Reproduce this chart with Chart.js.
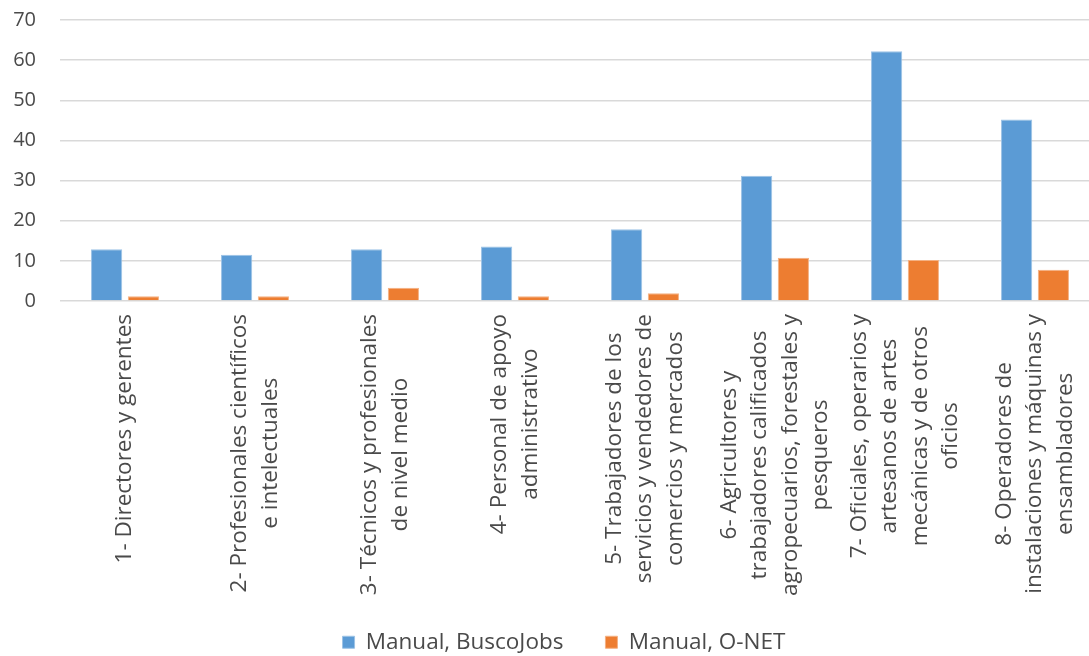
<!DOCTYPE html>
<html>
<head>
<meta charset="utf-8">
<script src="https://cdn.jsdelivr.net/npm/chart.js@4.4.1/dist/chart.umd.min.js"></script>
<style>
  html, body { margin: 0; padding: 0; background: #fff; overflow: hidden; }
  #wrap { width: 1100px; height: 656px; }
</style>
</head>
<body>
<div id="wrap"><canvas id="chart"></canvas></div>
<script>
// Kategorien (Zeilenumbrüche wie im Original)
const CATEGORIES = [
  ['1- Directores y gerentes'],
  ['2- Profesionales científicos', 'e intelectuales'],
  ['3- Técnicos y profesionales', 'de nivel medio'],
  ['4- Personal de apoyo', 'administrativo'],
  ['5- Trabajadores de los', 'servicios y vendedores de', 'comercios y mercados'],
  ['6- Agricultores y', 'trabajadores calificados', 'agropecuarios, forestales y', 'pesqueros'],
  ['7- Oficiales, operarios y', 'artesanos de artes', 'mecánicas y de otros', 'oficios'],
  ['8- Operadores de', 'instalaciones y máquinas y', 'ensambladores'],
];
const SERIES_NAMES = ['Manual, BuscoJobs', 'Manual, O-NET'];
const BUSCOJOBS = [12.9, 11.5, 12.9, 13.6, 17.9, 31.2, 62.2, 45.2];
const ONET      = [1.2, 1.2, 3.3, 1.2, 1.9, 10.8, 10.2, 7.8];
const Y_TICKS   = [0, 10, 20, 30, 40, 50, 60, 70];

const FONT = '"Open Sans", "DejaVu Sans", sans-serif';
const TEXT = '#4a4a4a';
const GRID = '#d9d9d9';
const BLUE = '#5b9bd5';
const ORANGE = '#ed7d31';

Chart.defaults.font.family = FONT;
Chart.defaults.color = TEXT;

// x-Beschriftungen: gedreht, mehrzeilig, jede Zeile zentriert (wie Excel)
const wrappedLabels = {
  id: 'wrappedLabels',
  afterDraw(chart) {
    const xs = chart.scales.x;
    const c = chart.ctx;
    const lh = 30.5;
    const top = chart.chartArea.bottom + 13;
    c.save();
    c.font = '22.5px ' + FONT;
    c.fillStyle = TEXT;
    c.textAlign = 'center';
    c.textBaseline = 'middle';
    CATEGORIES.forEach((lines, i) => {
      const x = xs.getPixelForValue(i);
      const maxW = Math.max(...lines.map(l => c.measureText(l).width));
      c.save();
      c.translate(x, top + maxW / 2);
      c.rotate(-Math.PI / 2);
      lines.forEach((l, j) => {
        c.fillText(l, 0, (j - (lines.length - 1) / 2) * lh);
      });
      c.restore();
    });
    c.restore();
  }
};

// Legende etwas verschieben (großes Item-Padding, Zeile bei y≈641)
const LEGEND_DY = 7.5;
const LEGEND_DX = 14;
const legendShift = {
  id: 'legendShift',
  afterLayout(chart) {
    const lg = chart.legend;
    if (!lg) return;
    lg.top += LEGEND_DY;
    lg.bottom += LEGEND_DY;
    lg.left += LEGEND_DX;
    lg.right += LEGEND_DX;
    (lg.legendHitBoxes || []).forEach(b => { b.top += LEGEND_DY; b.left += LEGEND_DX; });
  }
};

new Chart(document.getElementById('chart'), {
  type: 'bar',
  data: {
    labels: CATEGORIES.map(l => l.join(' ')),
    datasets: [
      { label: SERIES_NAMES[0], data: BUSCOJOBS, backgroundColor: BLUE, borderColor: '#9dc3e6', borderWidth: 1,
        categoryPercentage: 0.565, barPercentage: 0.85 },
      { label: SERIES_NAMES[1], data: ONET, backgroundColor: ORANGE, borderColor: '#f4b183', borderWidth: 1,
        categoryPercentage: 0.565, barPercentage: 0.85 },
    ]
  },
  options: {
    responsive: true, maintainAspectRatio: false, animation: false,
    layout: { padding: { top: 20, left: 0, right: 0, bottom: 0 } },
    scales: {
      x: {
        grid: { display: false, drawTicks: false },
        border: { display: false },
        ticks: { display: false },
        afterFit: s => { s.height = 280.5; s.paddingLeft = 0; s.paddingRight = 0; }
      },
      y: {
        min: 0, max: 70,
        afterBuildTicks: s => { s.ticks = Y_TICKS.map(v => ({ value: v })); },
        grid: { color: GRID, lineWidth: 1.5, drawTicks: false },
        border: { display: false },
        ticks: { padding: 24, font: { size: 20 }, color: TEXT },
        afterFit: s => { s.width = 60; s.paddingTop = 0; s.paddingBottom = 0; }
      }
    },
    plugins: {
      legend: {
        position: 'bottom',
        labels: { boxWidth: 12, boxHeight: 12, padding: 42, font: { size: 22.5 }, color: TEXT }
      },
      tooltip: { enabled: false }
    }
  },
  plugins: [wrappedLabels, legendShift]
});
</script>
</body>
</html>
